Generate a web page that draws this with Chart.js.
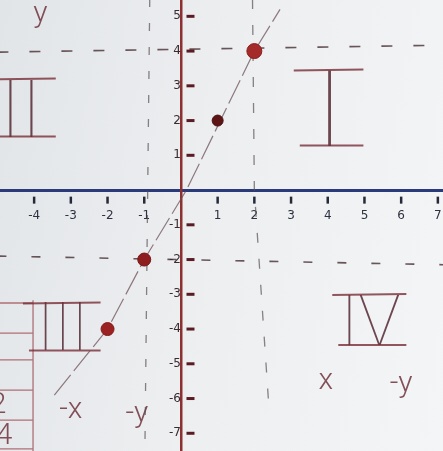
<!DOCTYPE html>
<html>
<head>
<meta charset="utf-8">
<script src="https://cdn.jsdelivr.net/npm/chart.js@4.4.1/dist/chart.umd.min.js"></script>
<style>
  html, body { margin: 0; padding: 0; }
  body {
    width: 443px; height: 451px; overflow: hidden;
    background: linear-gradient(100deg, #e2e5e8 0%, #eceef0 45%, #f4f5f6 100%);
  }
  #wrap { position: relative; width: 443px; height: 451px; }
</style>
</head>
<body>
<div id="wrap"><canvas id="board"></canvas></div>
<script>
const xTicks = [-4, -3, -2, -1, 1, 2, 3, 4, 5, 6, 7];
const yTicks = [5, 4, 3, 2, 1, -1, -2, -3, -4, -5, -6, -7];

// the four plotted points
const pointX = [2, 1, -1, -2];
const pointY = [4, 2, -2, -4];

// hand drawn line through them (y = 2x)
const lineX = [-3.45, -2, -1, 0.15, 2, 2.7];
const lineY = [-5.9, -4, -2, 0, 4, 5.2];

// dashed guide lines
const guideTopX = [-5, 7.2];
const guideTopY = [3.97, 4.17];
const guideLowX = [-5, 7.2];
const guideLowY = [-1.9, -2.15];
const guideRightX = [1.95, 2, 2.4];
const guideRightY = [5.5, 0, -6.3];
const guideLeftX = [-0.85, -0.98];
const guideLeftY = [5.5, -7.3];

// quadrant numerals and notes
const romanText = ['I', 'II', 'III', 'IV'];
const romanX = [4.05, -4.36, -3.22, 5.16];
const romanY = [2.36, 2.36, -3.94, -3.74];
const noteText = ['y', '-x', '-y', 'x', '-y', '2', '4'];
const noteX = [-3.83, -3.0, -1.2, 3.95, 6.0, -4.98, -4.82];
const noteY = [5.05, -6.35, -6.45, -5.5, -5.6, -6.2, -7.1];

// table scribbled at bottom left
const tableRowY = [-3.25, -4.12, -4.89, -5.76, -6.62, -7.45];

const pts = (xs, ys) => xs.map((x, i) => ({ x: x, y: ys[i] }));

function dashed(data, dash, color, width) {
  return {
    data: data, showLine: true, pointRadius: 0, borderColor: color,
    borderWidth: width, borderDash: dash, fill: false, order: 5
  };
}

// centred axes should not shrink the drawing area
function noPadding(s) {
  s.paddingLeft = 0; s.paddingRight = 0; s.paddingTop = 0; s.paddingBottom = 0;
}

const boardNotes = {
  id: 'boardNotes',
  beforeDatasetsDraw(chart) {
    const { ctx, scales: { x, y } } = chart;
    ctx.save();

    // table
    ctx.strokeStyle = 'rgba(150,60,70,0.7)';
    ctx.lineWidth = 1.3;
    const colX = x.getPixelForValue(-4.03);
    ctx.beginPath();
    ctx.moveTo(colX, y.getPixelForValue(-3.17));
    ctx.lineTo(colX, y.getPixelForValue(-7.6));
    tableRowY.forEach(v => {
      const py = y.getPixelForValue(v);
      ctx.moveTo(0, py);
      ctx.lineTo(colX, py);
    });
    ctx.stroke();

    // roman numerals with bars above and below
    const heights = [75, 57, 47, 50];
    const barExtra = [20, 14, 12, 6];
    romanText.forEach((t, i) => {
      const h = heights[i];
      const cx = x.getPixelForValue(romanX[i]);
      const cy = y.getPixelForValue(romanY[i]);
      ctx.font = '100 ' + Math.round(h / 0.71) + 'px Roboto, Lato, "DejaVu Sans"';
      ctx.fillStyle = 'rgba(85,40,50,0.85)';
      ctx.textAlign = 'center';
      ctx.textBaseline = 'alphabetic';
      ctx.fillText(t, cx, cy + h / 2);
      const w = ctx.measureText(t).width / 2 + barExtra[i];
      ctx.strokeStyle = 'rgba(120,45,55,0.8)';
      ctx.lineWidth = 2;
      ctx.beginPath();
      ctx.moveTo(cx - w - 2, cy - h / 2);
      ctx.lineTo(cx + w, cy - h / 2 - 1);
      ctx.moveTo(cx - w + 4, cy + h / 2);
      ctx.lineTo(cx + w, cy + h / 2);
      ctx.stroke();
    });

    // handwritten notes
    ctx.font = '300 30px Roboto, Lato, "DejaVu Sans"';
    ctx.fillStyle = 'rgba(110,50,60,0.85)';
    ctx.textAlign = 'center';
    ctx.textBaseline = 'middle';
    noteText.forEach((t, i) => {
      ctx.fillText(t, x.getPixelForValue(noteX[i]), y.getPixelForValue(noteY[i]));
    });
    ctx.restore();
  }
};

new Chart(document.getElementById('board'), {
  type: 'scatter',
  data: {
    datasets: [
      {
        data: pts(pointX, pointY),
        pointRadius: [7.5, 5.5, 6.5, 6.5],
        pointBackgroundColor: ['#a52a2a', '#5c1414', '#8e1d1d', '#9a2222'],
        pointBorderColor: ['#8a1e1e', '#4a0f0f', '#7a1616', '#861a1a'],
        pointBorderWidth: 1,
        order: 1
      },
      {
        data: pts(lineX, lineY), showLine: true, pointRadius: 0,
        borderColor: 'rgba(110,80,85,0.75)', borderWidth: 1.2,
        borderDash: [26, 5], order: 3
      },
      dashed(pts(guideTopX, guideTopY), [11, 21], 'rgba(70,45,50,0.8)', 1.6),
      dashed(pts(guideLowX, guideLowY), [9, 25], 'rgba(70,45,50,0.8)', 1.6),
      dashed(pts(guideRightX, guideRightY), [10, 16], 'rgba(90,80,85,0.7)', 1.3),
      dashed(pts(guideLeftX, guideLeftY), [8, 16], 'rgba(90,80,85,0.7)', 1.3),
      {
        // x tick marks
        data: xTicks.map(v => ({ x: v, y: -0.29 })),
        pointStyle: 'line', rotation: 90, pointRadius: 3.5,
        pointBorderColor: '#262a38', pointBorderWidth: 2.5, order: 2
      },
      {
        // y tick marks, drawn right of the axis
        data: yTicks.map(v => ({ x: 0.26, y: v })),
        pointStyle: 'line', pointRadius: 4,
        pointBorderColor: '#5a1c22', pointBorderWidth: 3, order: 2
      }
    ]
  },
  options: {
    responsive: true,
    maintainAspectRatio: false,
    animation: false,
    layout: { padding: 0, autoPadding: false },
    plugins: { legend: { display: false }, tooltip: { enabled: false } },
    scales: {
      x: {
        type: 'linear', position: { y: 0 }, min: -4.93, max: 7.14,
        afterBuildTicks: s => { s.ticks = xTicks.map(v => ({ value: v })); },
        afterFit: noPadding,
        grid: { display: false },
        border: { color: '#2b3a78', width: 3 },
        ticks: {
          padding: 11, color: '#2e3240',
          font: { family: '"DejaVu Sans"', size: 12 }
        }
      },
      y: {
        type: 'linear', position: { x: 0 }, min: -7.51, max: 5.47,
        afterBuildTicks: s => { s.ticks = yTicks.map(v => ({ value: v })); },
        afterFit: noPadding,
        grid: { display: false },
        border: { color: '#8c3030', width: 2.5 },
        ticks: {
          padding: 5, color: '#3a2a30',
          font: { family: '"DejaVu Sans"', size: 12 }
        }
      }
    }
  },
  plugins: [boardNotes]
});
</script>
</body>
</html>
